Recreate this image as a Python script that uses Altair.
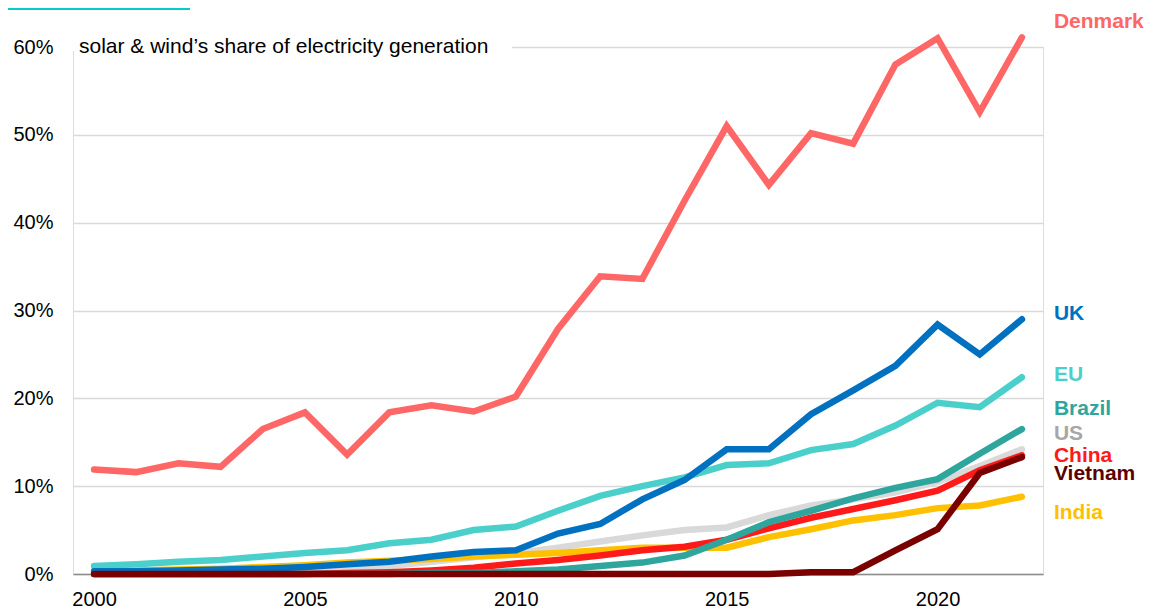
import altair as alt
import pandas as pd

# ---------------- data ----------------
years = [2000, 2001, 2002, 2003, 2004, 2005, 2006, 2007, 2008, 2009, 2010, 2011,
         2012, 2013, 2014, 2015, 2016, 2017, 2018, 2019, 2020, 2021, 2022]

us = [0.2, 0.2, 0.3, 0.3, 0.4, 0.5, 0.7, 0.9, 1.4, 1.9, 2.4, 3.0,
      3.7, 4.4, 5.0, 5.3, 6.7, 7.8, 8.5, 9.3, 10.5, 12.3, 14.2]
india = [0.3, 0.4, 0.5, 0.6, 0.8, 1.0, 1.3, 1.5, 1.7, 2.0, 2.2, 2.4,
         2.7, 3.0, 3.0, 3.0, 4.2, 5.1, 6.1, 6.7, 7.5, 7.8, 8.8]
china = [0.0, 0.0, 0.0, 0.0, 0.0, 0.0, 0.1, 0.2, 0.4, 0.7, 1.2, 1.6,
         2.1, 2.7, 3.1, 3.9, 5.2, 6.4, 7.4, 8.4, 9.5, 11.8, 13.5]
brazil = [0.0, 0.0, 0.0, 0.0, 0.0, 0.0, 0.0, 0.0, 0.1, 0.1, 0.3, 0.5,
          0.9, 1.3, 2.1, 3.9, 5.9, 7.2, 8.6, 9.8, 10.8, 13.7, 16.5]
eu = [0.9, 1.1, 1.4, 1.6, 2.0, 2.4, 2.7, 3.5, 3.9, 5.0, 5.4, 7.2,
      8.9, 10.0, 11.0, 12.4, 12.6, 14.1, 14.8, 16.9, 19.5, 19.0, 22.4]
uk = [0.3, 0.3, 0.4, 0.5, 0.6, 0.8, 1.1, 1.4, 2.0, 2.5, 2.7, 4.6,
      5.7, 8.5, 10.7, 14.2, 14.2, 18.2, 20.9, 23.7, 28.4, 25.0, 29.0]
vietnam = [0.0, 0.0, 0.0, 0.0, 0.0, 0.0, 0.0, 0.0, 0.0, 0.0, 0.0, 0.0,
           0.0, 0.0, 0.0, 0.0, 0.0, 0.2, 0.2, 2.7, 5.1, 11.5, 13.3]
denmark = [11.9, 11.6, 12.6, 12.2, 16.5, 18.4, 13.6, 18.4, 19.2, 18.5, 20.2, 27.9,
           33.9, 33.6, 42.5, 51.0, 44.3, 50.2, 49.0, 58.0, 61.0, 52.6, 61.1]

# drawing order (bottom -> top)
countries = ["US", "India", "China", "Brazil", "EU", "UK", "Vietnam", "Denmark"]
series = [us, india, china, brazil, eu, uk, vietnam, denmark]
line_colors = ["#D9D9D9", "#FFC000", "#FF1A1A", "#2EA69E", "#4BCFCB", "#0070C0", "#7A0000", "#FF6666"]
label_colors = ["#A6A6A6", "#FFC000", "#FF1A1A", "#2EA69E", "#4BCFCB", "#0070C0", "#5C0000", "#FF6666"]
# where each end label sits (in % units)
label_at = [15.9, 7.0, 13.4, 18.8, 22.6, 29.6, 11.4, 62.8]

y_ticks = [0, 10, 20, 30, 40, 50, 60]
x_ticks = [2000, 2005, 2010, 2015, 2020]
title_text = "solar & wind\u2019s share of electricity generation"

# ---------------- tables ----------------
rows = []
for c, vals in zip(countries, series):
    for yr, v in zip(years, vals):
        rows.append({"country": c, "year": yr, "share": v})
df = pd.DataFrame(rows)

labels = pd.DataFrame({
    "country": countries,
    "year": [years[-1]] * len(countries),
    "pos": label_at,
    "lc": label_colors,
})

FONT = "Liberation Sans"

x_scale = alt.Scale(domain=[1999.5, 2022.5], nice=False, zero=False)
y_scale = alt.Scale(domain=[0, 60], nice=False)

lines = alt.Chart(df).mark_line(strokeWidth=6.5, strokeCap="round", strokeJoin="miter").encode(
    x=alt.X("year:Q", scale=x_scale,
            axis=alt.Axis(values=x_ticks, format="d", title=None, grid=False,
                          tickSize=0, labelPadding=15, labelFontSize=20,
                          labelFont=FONT, labelColor="#000000",
                          domainColor="#8C8C8C", domainWidth=1.5)),
    y=alt.Y("share:Q", scale=y_scale,
            axis=alt.Axis(values=y_ticks, labelExpr="datum.value + '%'", title=None,
                          grid=True, gridColor="#D9D9D9", gridWidth=1.5,
                          domain=False, ticks=False, labelPadding=20,
                          labelFontSize=20, labelFont=FONT, labelColor="#000000")),
    color=alt.Color("country:N", scale=alt.Scale(domain=countries, range=line_colors),
                    legend=None),
)

end_labels = alt.Chart(labels).mark_text(
    align="left", baseline="middle", fontSize=21, fontWeight="bold", font=FONT, dx=32
).encode(
    x=alt.X("year:Q", scale=x_scale),
    y=alt.Y("pos:Q", scale=y_scale),
    text="country:N",
    color=alt.Color("lc:N", scale=None),
)

title_bg = alt.Chart(pd.DataFrame({"k": [0]})).mark_rect(color="white").encode(
    x=alt.value(0), x2=alt.value(439), y=alt.value(-4), y2=alt.value(4)
)

title = alt.Chart(pd.DataFrame({"t": [title_text]})).mark_text(
    align="left", baseline="middle", fontSize=21, font=FONT, color="#000000"
).encode(
    x=alt.value(6),
    y=alt.datum(60),
    text="t:N",
)

top_rule = alt.Chart(pd.DataFrame({"k": [0]})).mark_rule(color="#00CCCC", strokeWidth=2).encode(
    x=alt.value(-65), x2=alt.value(117), y=alt.value(-38)
)

chart = alt.layer(title_bg, lines, title, end_labels, top_rule).properties(
    width=970,
    height=527,
    padding={"left": 65, "top": 39, "right": 102, "bottom": 36},
    autosize=alt.AutoSizeParams(type="none"),
).configure_view(stroke=None).configure(font=FONT)

chart.save("out.html", embed_options={"renderer": "svg", "actions": False})
